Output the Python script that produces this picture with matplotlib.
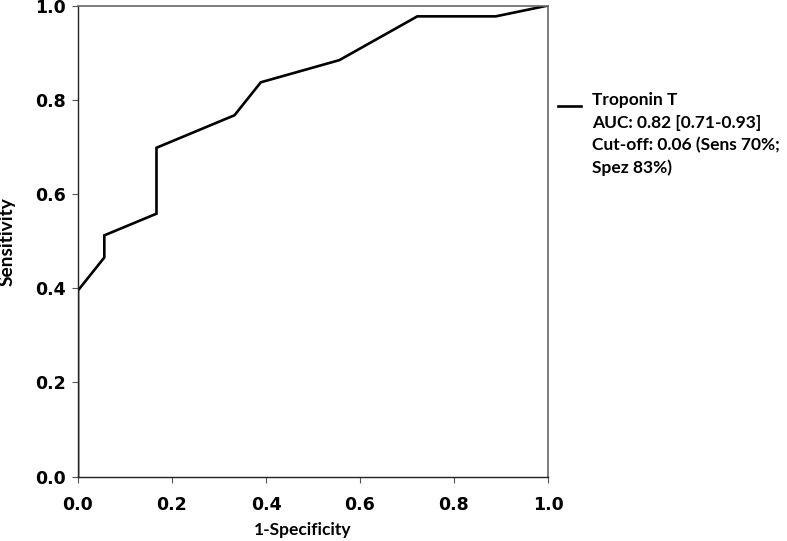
import matplotlib
matplotlib.use('Agg')
import matplotlib.pyplot as plt
from matplotlib.lines import Line2D

# ROC curve points
fpr = [0.0, 0.0, 0.056, 0.056, 0.167, 0.167, 0.333, 0.389, 0.556, 0.722, 0.889, 1.0]
tpr = [0.0, 0.395, 0.465, 0.512, 0.558, 0.698, 0.767, 0.837, 0.884, 0.977, 0.977, 1.0]
ticks = [0.0, 0.2, 0.4, 0.6, 0.8, 1.0]
tickLabels = ['0.0', '0.2', '0.4', '0.6', '0.8', '1.0']
legendLines = ['Troponin T', 'AUC: 0.82 [0.71-0.93]', 'Cut-off: 0.06 (Sens 70%;', 'Spez 83%)']

labelFont = 'Lato'

fig = plt.figure(figsize=(7.87, 5.41), dpi=100)
ax = fig.add_axes([0.0991, 0.1192, 0.5972, 0.8706])

ax.plot(fpr, tpr, color='black', linewidth=1.9, solid_joinstyle='miter')
ax.set_xlim(0, 1)
ax.set_ylim(0, 1)
ax.set_xticks(ticks)
ax.set_yticks(ticks)
ax.set_xticklabels(tickLabels, fontsize=12.5, fontweight='heavy', family='DejaVu Sans')
ax.set_yticklabels(tickLabels, fontsize=12.5, fontweight='heavy', family='DejaVu Sans')
ax.tick_params(direction='out', length=4, width=0.8, color='#555555')
ax.tick_params(axis='x', pad=10)
ax.tick_params(axis='y', pad=5)

for side in ['top', 'right']:
    ax.spines[side].set_color('#666666')
    ax.spines[side].set_linewidth(1.2)
for side in ['left', 'bottom']:
    ax.spines[side].set_color('#222222')
    ax.spines[side].set_linewidth(1.0)

ax.set_xlabel('1-Specificity', fontsize=12.5, fontweight='bold', family=labelFont)
ax.set_ylabel('Sensitivity', fontsize=13.8, fontweight='bold', family=labelFont)
ax.xaxis.set_label_coords(0.479, -0.097)
ax.yaxis.set_label_coords(-0.133, 0.498)

# legend drawn by hand: handle beside first row, text below
fig.add_artist(Line2D([558 / 787, 581 / 787], [1 - 106.5 / 541, 1 - 106.5 / 541],
                      color='black', linewidth=1.9, transform=fig.transFigure))
for i, line in enumerate(legendLines):
    fig.text(592 / 787, 1 - (100 + 22.7 * i) / 541, line, fontsize=12.5, fontweight='bold',
             family=labelFont, va='center', ha='left')

plt.savefig('out.png', dpi=100)
